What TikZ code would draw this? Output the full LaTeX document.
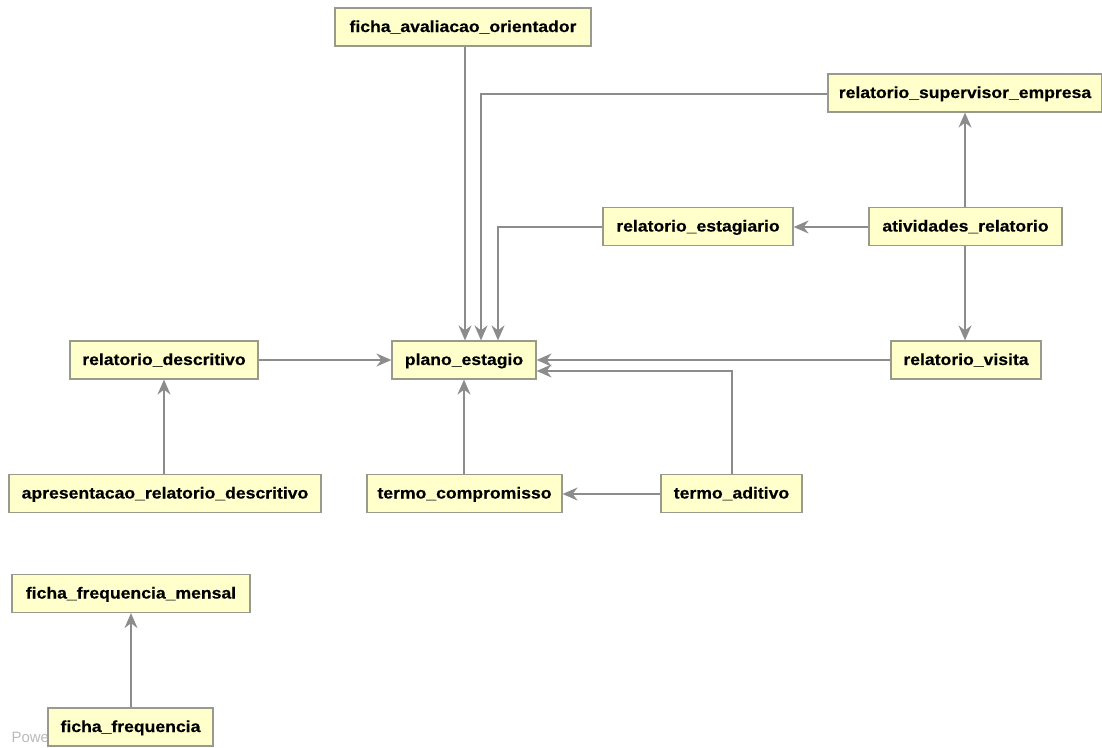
\documentclass[tikz,border=0pt]{standalone}
\usepackage{fontspec}
\setmainfont{Liberation Sans}
\newfontfamily\boxfont[FakeStretch=1.1, BoldFeatures={FakeBold=0.4}]{Liberation Sans}
\usetikzlibrary{arrows.meta}
\definecolor{boxfill}{HTML}{FFFFCC}
\definecolor{boxline}{HTML}{9A9A8C}
\definecolor{edgecol}{HTML}{8C8C8C}
\definecolor{wmark}{HTML}{BBBBBB}
\tikzset{
  tbl/.style={draw=boxline, fill=boxfill, line width=1.2pt, minimum height=38pt,
    inner sep=0pt, text height=13pt, text depth=3pt,
    font=\boxfont\bfseries\fontsize{16pt}{19pt}\selectfont},
  rel/.style={draw=edgecol, line width=1.6pt,
    -{Stealth[length=15pt, width=13pt, inset=5pt]}},
}
\begin{document}
\begin{tikzpicture}[x=1pt, y=-1pt]
\useasboundingbox (0,0) rectangle (1102,747);
\fill[white] (0,0) rectangle (1102,747);
\node[anchor=base west, text=wmark, font=\fontsize{15pt}{17pt}\selectfont] (wm) at (8,742) {Powe};

\node[tbl, minimum width=256pt] (fao) at (463,27) {ficha\_avaliacao\_orientador};
\node[tbl, minimum width=274pt] (rse) at (965,93) {relatorio\_supervisor\_empresa};
\node[tbl, minimum width=190pt] (res) at (698,226.5) {relatorio\_estagiario};
\node[tbl, minimum width=193pt] (atr) at (965.5,226.5) {atividades\_relatorio};
\node[tbl, minimum width=188pt] (rde) at (164,360) {relatorio\_descritivo};
\node[tbl, minimum width=144pt] (pes) at (464,360) {plano\_estagio};
\node[tbl, minimum width=150pt] (rvi) at (966,360) {relatorio\_visita};
\node[tbl, minimum width=312pt] (ard) at (165,493.5) {apresentacao\_relatorio\_descritivo};
\node[tbl, minimum width=195pt] (tco) at (464.5,493.5) {termo\_compromisso};
\node[tbl, minimum width=141pt] (tad) at (731.5,493.5) {termo\_aditivo};
\node[tbl, minimum width=238pt] (ffm) at (131,593.5) {ficha\_frequencia\_mensal};
\node[tbl, minimum width=165pt] (ffr) at (130.5,727) {ficha\_frequencia};

% edges into plano_estagio
\draw[rel] (fao.south -| 465,0) -- (pes.north -| 465,0);
\draw[rel] (rse.west |- 0,94) -| (pes.north -| 481,0);
\draw[rel] (res.west |- 0,227) -| (pes.north -| 498,0);
\draw[rel] (rde.east |- 0,360) -- (pes.west |- 0,360);
\draw[rel] (rvi.west |- 0,360) -- (pes.east |- 0,360);
\draw[rel] (tad.north -| 732,0) |- (pes.east |- 0,371);
\draw[rel] (tco.north -| 464,0) -- (pes.south -| 464,0);

% other edges
\draw[rel] (atr.north -| 965,0) -- (rse.south -| 965,0);
\draw[rel] (atr.west |- 0,227) -- (res.east |- 0,227);
\draw[rel] (atr.south -| 965,0) -- (rvi.north -| 965,0);
\draw[rel] (tad.west |- 0,494) -- (tco.east |- 0,494);
\draw[rel] (ard.north -| 164,0) -- (rde.south -| 164,0);
\draw[rel] (ffr.north -| 131,0) -- (ffm.south -| 131,0);
\end{tikzpicture}
\end{document}
